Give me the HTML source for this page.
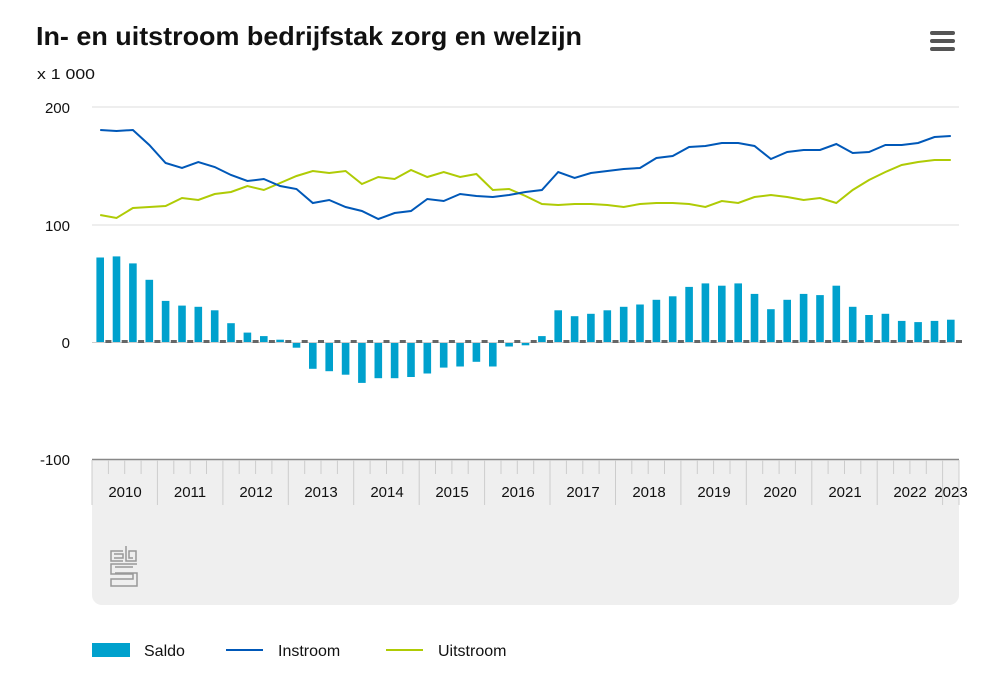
<!DOCTYPE html>
<html><head><meta charset="utf-8"><style>
body{margin:0;background:#fff;font-family:"Liberation Sans",sans-serif;}
svg text{font-family:"Liberation Sans",sans-serif;}
</style></head><body>
<svg id="s" width="991" height="685" viewBox="0 0 991 685" xmlns="http://www.w3.org/2000/svg">
<text x="36" y="45" font-size="26" font-weight="bold" fill="#111" textLength="546" lengthAdjust="spacingAndGlyphs">In- en uitstroom bedrijfstak zorg en welzijn</text>
<rect x="930" y="31" width="25" height="4" rx="2" fill="#555"/>
<rect x="930" y="39" width="25" height="4" rx="2" fill="#555"/>
<rect x="930" y="47" width="25" height="4" rx="2" fill="#555"/>
<text x="37" y="79" font-size="15" fill="#111" textLength="58" lengthAdjust="spacingAndGlyphs">x 1 000</text>
<g font-size="15" fill="#111" text-anchor="end">
<text x="70" y="113">200</text><text x="70" y="231">100</text><text x="70" y="348">0</text><text x="70" y="465">-100</text></g>
<line x1="92" y1="107" x2="959" y2="107" stroke="#ddd"/>
<line x1="92" y1="225" x2="959" y2="225" stroke="#ddd"/>
<path d="M92 459H959V595a10 10 0 0 1-10 10H102a10 10 0 0 1-10-10Z" fill="#efefef"/>
<line x1="92" y1="459.5" x2="959" y2="459.5" stroke="#888" stroke-width="1.5"/>
<line x1="92" y1="342.5" x2="959" y2="342.5" stroke="#ccc"/>
<g id="g"></g>
<g font-size="15" fill="#111" text-anchor="middle">
<text x="125" y="497">2010</text><text x="190" y="497">2011</text><text x="256" y="497">2012</text><text x="321" y="497">2013</text><text x="387" y="497">2014</text><text x="452" y="497">2015</text><text x="518" y="497">2016</text><text x="583" y="497">2017</text><text x="649" y="497">2018</text><text x="714" y="497">2019</text><text x="780" y="497">2020</text><text x="845" y="497">2021</text><text x="910" y="497">2022</text><text x="951" y="497">2023</text></g>
<g fill="none" stroke="#999" stroke-width="1.5">
<path d="M123 551h-12v10h12"/>
<path d="M114 554h9v4h-9"/>
<path d="M126 546v15h10v-10h-7v7h4"/>
<path d="M137 564h-26v10h22v5h-22v7h26v-13h-22"/>
<path d="M115 567h18"/>
</g>
<rect x="92" y="643" width="38" height="14" fill="#00a1cd"/>
<text x="144" y="656" font-size="16" fill="#111">Saldo</text>
<line x1="226" y1="650" x2="263" y2="650" stroke="#0058b8" stroke-width="2"/>
<text x="278" y="656" font-size="16" fill="#111">Instroom</text>
<line x1="386" y1="650" x2="423" y2="650" stroke="#afcb05" stroke-width="2"/>
<text x="438" y="656" font-size="16" fill="#111">Uitstroom</text>
</svg>
<script>
var sal=[72,73,67,53,35,31,30,27,16,8,5,2,-4,-22,-24,-27,-34,-30,-30,-29,-26,-21,-20,-16,-20,-3,-2,5,27,22,24,27,30,32,36,39,47,50,48,50,41,28,36,41,40,48,30,23,24,18,17,18,19];
var ins=[130,131,130,145,163,168,162,167,175,181,179,186,189,203,200,207,211,219,213,211,199,201,194,196,197,195,192,190,172,178,173,171,169,168,158,156,147,146,143,143,146,159,152,150,150,144,153,152,145,145,143,137,136];
var uit=[215,218,208,207,206,198,200,194,192,186,190,183,176,171,173,171,184,177,179,170,177,172,177,174,190,189,196,204,205,204,204,205,207,204,203,203,204,207,201,203,197,195,197,200,198,203,190,180,172,165,162,160,160];
var w=(959-92)/53,h='';
for(var i=0;i<53;i++){var c=92+(i+0.5)*w,v=sal[i]*1.173;
 h+='<rect x="'+(c+w/2-3).toFixed(1)+'" y="340" width="6" height="3" fill="#666"/>';
 if(v>=0)h+='<rect x="'+(c-3.8).toFixed(1)+'" y="'+(342-v).toFixed(1)+'" width="7.6" height="'+v.toFixed(1)+'" fill="#00a1cd"/>';
 else h+='<rect x="'+(c-3.8).toFixed(1)+'" y="343" width="7.6" height="'+(-v).toFixed(1)+'" fill="#00a1cd"/>';}
function pl(a,col){var p='';for(var i=0;i<53;i++)p+=(i?'L':'M')+(92+(i+0.5)*w).toFixed(1)+' '+a[i];return '<path d="'+p+'" fill="none" stroke="'+col+'" stroke-width="2"/>';}
h+=pl(uit,'#afcb05')+pl(ins,'#0058b8');
for(var k=0;k<=53;k++){var x=(92+k*w).toFixed(1);h+='<line x1="'+x+'" y1="460" x2="'+x+'" y2="'+(k%4==0||k==53?505:474)+'" stroke="#ccc"/>';}
document.getElementById('g').innerHTML=h;
</script>
</body></html>
